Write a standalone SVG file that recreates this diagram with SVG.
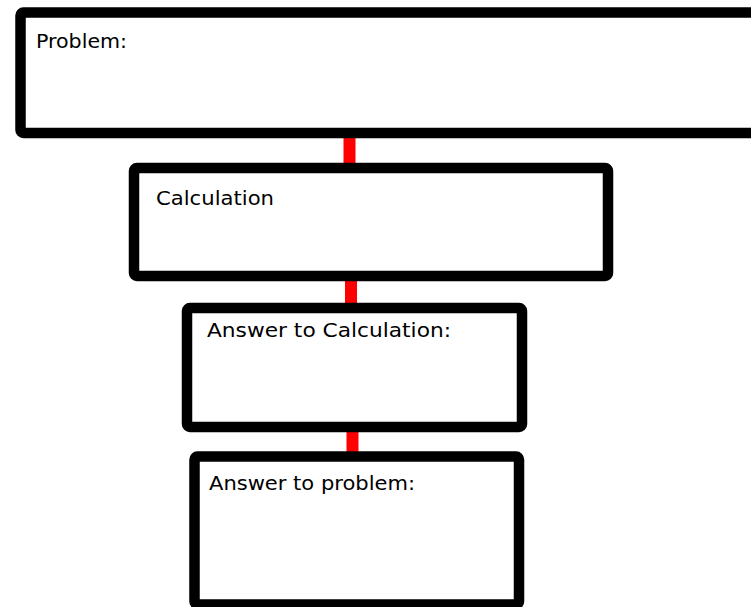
<svg xmlns="http://www.w3.org/2000/svg" width="751" height="607" viewBox="0 0 751 607">
<style>
.box{fill:#fff;stroke:#000;stroke-width:10.5;stroke-linejoin:round}
.lbl{font-family:"Comic Sans MS","DejaVu Sans",sans-serif;font-size:20px;fill:#000}
.conn{stroke:#f00;stroke-width:12;fill:none}
</style>
<rect width="751" height="607" fill="#fff"/>
<g id="connectors">
<line class="conn" x1="349.5" y1="136" x2="349.5" y2="165"/>
<line class="conn" x1="351" y1="279" x2="351" y2="305"/>
<line class="conn" x1="352.5" y1="430" x2="352.5" y2="453"/>
</g>
<g id="problem">
<rect class="box" x="20.5" y="12.5" width="760" height="120.5" rx="3"/>
<text class="lbl" x="36" y="48" textLength="91" lengthAdjust="spacingAndGlyphs">Problem:</text>
</g>
<g id="calculation">
<rect class="box" x="134" y="168" width="474" height="108" rx="3"/>
<text class="lbl" x="156" y="205" textLength="118" lengthAdjust="spacingAndGlyphs">Calculation</text>
</g>
<g id="answer-calculation">
<rect class="box" x="187" y="308" width="335" height="119" rx="3"/>
<text class="lbl" x="207" y="337" textLength="244" lengthAdjust="spacingAndGlyphs">Answer to Calculation:</text>
</g>
<g id="answer-problem">
<rect class="box" x="194.5" y="456.5" width="324.5" height="148" rx="3"/>
<text class="lbl" x="209" y="490" textLength="206" lengthAdjust="spacingAndGlyphs">Answer to problem:</text>
</g>
</svg>
